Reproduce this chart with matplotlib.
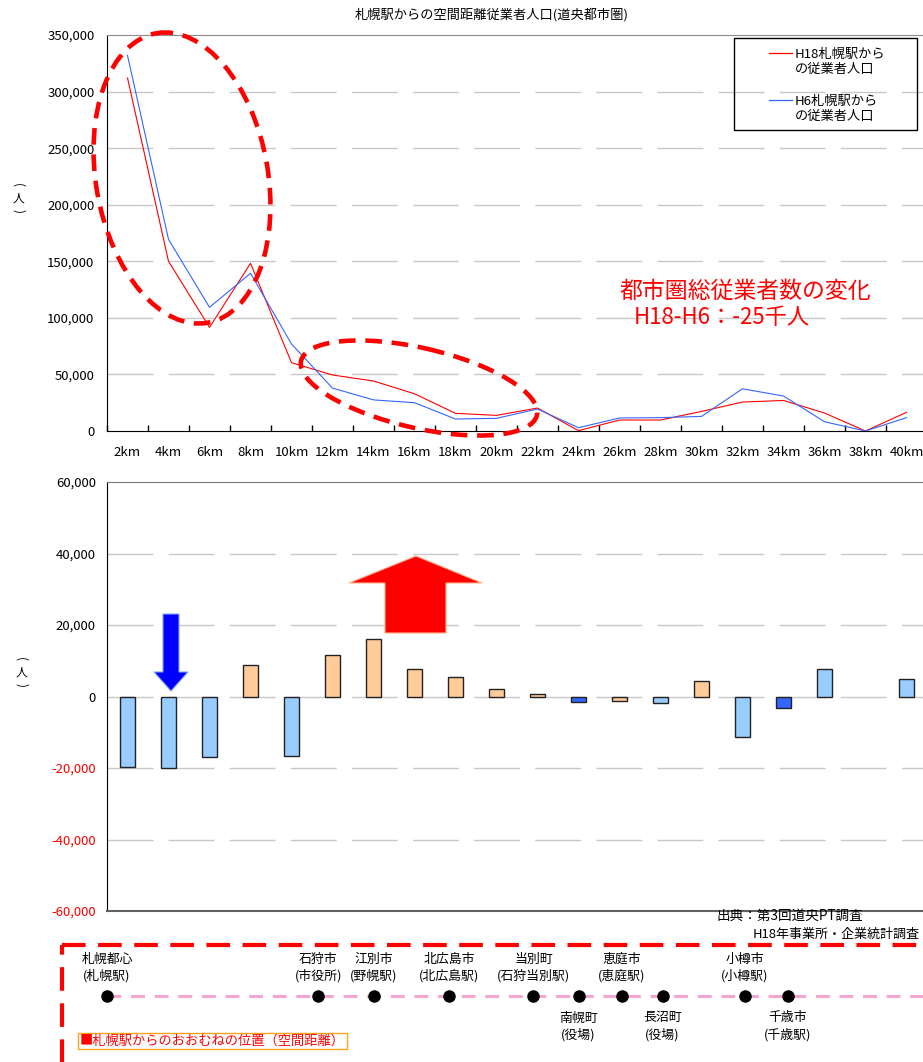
import matplotlib
matplotlib.use("Agg")
import matplotlib.pyplot as plt
import matplotlib.transforms as mtransforms
from matplotlib.patches import Ellipse, Polygon, Rectangle
from matplotlib.ticker import FuncFormatter, FixedLocator, NullFormatter

plt.rcParams["font.family"] = ["Noto Sans CJK JP", "DejaVu Sans"]
plt.rcParams["lines.scale_dashes"] = False

# ---- data -------------------------------------------------------------
# 2 km distance bands from Sapporo Station (upper bound of each band)
band_km = [2, 4, 6, 8, 10, 12, 14, 16, 18, 20, 22, 24, 26, 28, 30, 32, 34, 36, 38, 40]
band_labels = [f"{k}km" for k in band_km]

# employed persons by band
workers_h18 = [312000, 150000, 91600, 148200, 60400, 49500, 44200, 32900, 15600, 13800,
               20300, 300, 9700, 9700, 17300, 25600, 27000, 15900, 0, 16500]
workers_h6 = [332000, 169400, 109300, 139400, 76900, 37900, 27500, 25000, 10600, 11200,
              19400, 2900, 11500, 11800, 12900, 37300, 30900, 8200, 0, 11800]

# change H18 - H6 by band
change = [-19600, -20000, -16900, 8700, -16700, 11700, 16200, 7600, 5400, 2100,
          800, -1600, -1300, -1900, 4300, -11200, -3300, 7600, 0, 4800]
change_colors = ["#99ccff", "#99ccff", "#99ccff", "#ffcc99", "#99ccff", "#ffcc99",
                 "#ffcc99", "#ffcc99", "#ffcc99", "#ffcc99", "#ffcc99", "#3366ff",
                 "#ffcc99", "#99ccff", "#ffcc99", "#99ccff", "#3366ff", "#99ccff",
                 "#99ccff", "#99ccff"]

# approximate straight-line distance of each place from Sapporo Station (km)
station_names = ["札幌都心", "石狩市", "江別市", "北広島市", "当別町",
                 "南幌町", "恵庭市", "長沼町", "小樽市", "千歳市"]
station_notes = ["(札幌駅)", "(市役所)", "(野幌駅)", "(北広島駅)", "(石狩当別駅)",
                 "(役場)", "(恵庭駅)", "(役場)", "(小樽駅)", "(千歳駅)"]
station_km = [0.0, 10.3, 13.0, 16.7, 20.8, 23.0, 25.1, 27.1, 31.1, 33.2]
station_below = [False, False, False, False, False, True, False, True, False, True]

# ---- figure -----------------------------------------------------------
W, H = 923, 1062
fig = plt.figure(figsize=(W / 100, H / 100), dpi=100)

def px_axes(x0, y0, x1, y1):
    return fig.add_axes([x0 / W, 1 - y1 / H, (x1 - x0) / W, (y1 - y0) / H])

RED = "#ff0000"
BLUE = "#3366ff"
GRID = dict(color="#c8c8c8", lw=1.0, linestyle=(0, (33, 11)))
centers = [k - 1 for k in band_km]

# top: employed persons by distance band
ax1 = px_axes(107, 35, 927, 431)
ax1.plot(centers, workers_h18, color=RED, lw=0.8, zorder=3)
ax1.plot(centers, workers_h6, color=BLUE, lw=0.8, zorder=3)
ax1.set_xlim(0, 40)
ax1.set_ylim(0, 350000)
ax1.set_yticks(range(0, 350001, 50000))
ax1.yaxis.set_major_formatter(FuncFormatter(lambda v, p: f"{int(v):,}"))
for y in range(50000, 350000, 50000):
    ax1.axhline(y, zorder=1, **GRID)
ax1.xaxis.set_major_locator(FixedLocator(list(range(0, 41, 2))))
ax1.xaxis.set_major_formatter(NullFormatter())
ax1.xaxis.set_minor_locator(FixedLocator(centers))
ax1.set_xticklabels(band_labels, minor=True)
ax1.tick_params(axis="x", which="major", direction="in", length=4, width=1, color="black")
ax1.tick_params(axis="x", which="minor", length=0, pad=11, labelsize=9.5)
ax1.tick_params(axis="y", length=0, pad=9, labelsize=9.5)
ax1.spines["top"].set_color("#8c8c8c")
ax1.spines["right"].set_visible(False)
for s in ("left", "bottom"):
    ax1.spines[s].set_color("black")

# bottom: change in employed persons
ax2 = px_axes(107, 482, 927, 911)
edge = ["#222222" if v else "none" for v in change]
ax2.bar(centers, change, width=0.78, color=change_colors, edgecolor=edge, lw=1.0, zorder=3)
ax2.set_xlim(0, 40)
ax2.set_ylim(-60000, 60000)
ax2.set_yticks(range(-60000, 60001, 20000))
ax2.yaxis.set_major_formatter(FuncFormatter(lambda v, p: f"{int(v):,}"))
for y in range(-40000, 60000, 20000):
    ax2.axhline(y, zorder=1, **GRID)
ax2.set_xticks([])
ax2.tick_params(axis="y", length=0, pad=8, labelsize=9.5)
for lbl, v in zip(ax2.get_yticklabels(), range(-60000, 60001, 20000)):
    lbl.set_color(RED if v < 0 else "black")
ax2.spines["top"].set_color("#7a7a7a")
ax2.spines["bottom"].set_color("#606060")
ax2.spines["bottom"].set_linewidth(1.5)
ax2.spines["right"].set_visible(False)
ax2.spines["left"].set_color("black")

# overlay in pixel coordinates for annotations
ov = fig.add_axes([0, 0, 1, 1], zorder=10)
ov.set_xlim(0, W)
ov.set_ylim(H, 0)
ov.axis("off")

ov.text(492, 15, "札幌駅からの空間距離従業者人口(道央都市圏)", ha="center", va="center", fontsize=9.5)

# vertical unit label (人)
for xc, yc in ((18, 198), (21, 672)):
    ov.text(xc, yc - 13, "(", ha="center", va="center", fontsize=8.5, rotation=-90)
    ov.text(xc, yc, "人", ha="center", va="center", fontsize=8.5)
    ov.text(xc, yc + 13, ")", ha="center", va="center", fontsize=8.5, rotation=-90)

# legend box
ov.add_patch(Rectangle((734, 38), 183, 92, fill=False, edgecolor="black", lw=1.0))
ov.plot([769, 792], [53, 53], color=RED, lw=0.9)
ov.text(795, 62, "H18札幌駅から\nの従業者人口", ha="left", va="center", fontsize=9.5, linespacing=1.15)
ov.plot([769, 792], [100, 100], color=BLUE, lw=0.9)
ov.text(795, 109, "H6札幌駅から\nの従業者人口", ha="left", va="center", fontsize=9.5, linespacing=1.15)

# total change note
ov.text(619, 291, "都市圏総従業者数の変化", ha="left", va="center", color=RED, fontsize=16.5)
ov.text(634, 318, "H18-H6：-25千人", ha="left", va="center", color=RED, fontsize=16)

# highlight ellipses
dash_red = dict(fill=False, edgecolor=RED, lw=3.3, linestyle=(0, (12, 7)))
ov.add_patch(Ellipse((182, 178), 172, 294, angle=-10, **dash_red))
ov.add_patch(Ellipse((419, 388), 242, 80, angle=13, **dash_red))

# arrows
ov.add_patch(Polygon([(163, 614), (179, 614), (179, 672), (188, 672), (171, 691),
                      (154, 672), (163, 672)], closed=True, facecolor="#0000ff",
                     edgecolor="#7fa6ff", lw=0.8))
ov.add_patch(Polygon([(416, 556), (482, 583), (446, 583), (446, 633), (385, 633),
                      (385, 583), (349, 583)], closed=True, facecolor="#ff0000",
                     edgecolor="#ffb38a", lw=0.8))

# source
ov.text(717, 916, "出典：第3回道央PT調査", ha="left", va="center", fontsize=9.8)
ov.text(753, 934, "H18年事業所・企業統計調査", ha="left", va="center", fontsize=9.4)

# location strip
ov.add_patch(Rectangle((62, 945), 900, 200, fill=False, edgecolor=RED, lw=3.0,
                       linestyle=(0, (17, 9))))
strip = mtransforms.blended_transform_factory(ax2.transData, ov.transData)
ov.plot([0, 42], [996, 996], color="#f4a6d0", lw=2.2, linestyle=(0, (10, 7)),
        transform=strip, clip_on=False)
ov.plot(station_km, [996] * len(station_km), "o", color="black", ms=8,
        transform=strip, clip_on=False)
for name, note, km, below in zip(station_names, station_notes, station_km, station_below):
    y1, y2 = (1018, 1035) if below else (959, 976)
    ov.text(km, y1, name, transform=strip, ha="center", va="center", fontsize=9.3)
    ov.text(km, y2, note, transform=strip, ha="center", va="center", fontsize=9.3)

ov.text(80, 1041, "■札幌駅からのおおむねの位置（空間距離）", ha="left", va="center",
        color=RED, fontsize=9.5,
        bbox=dict(boxstyle="square,pad=0.15", facecolor="white", edgecolor="#ffa31a", lw=1.0))

fig.savefig("out.png", dpi=100)
